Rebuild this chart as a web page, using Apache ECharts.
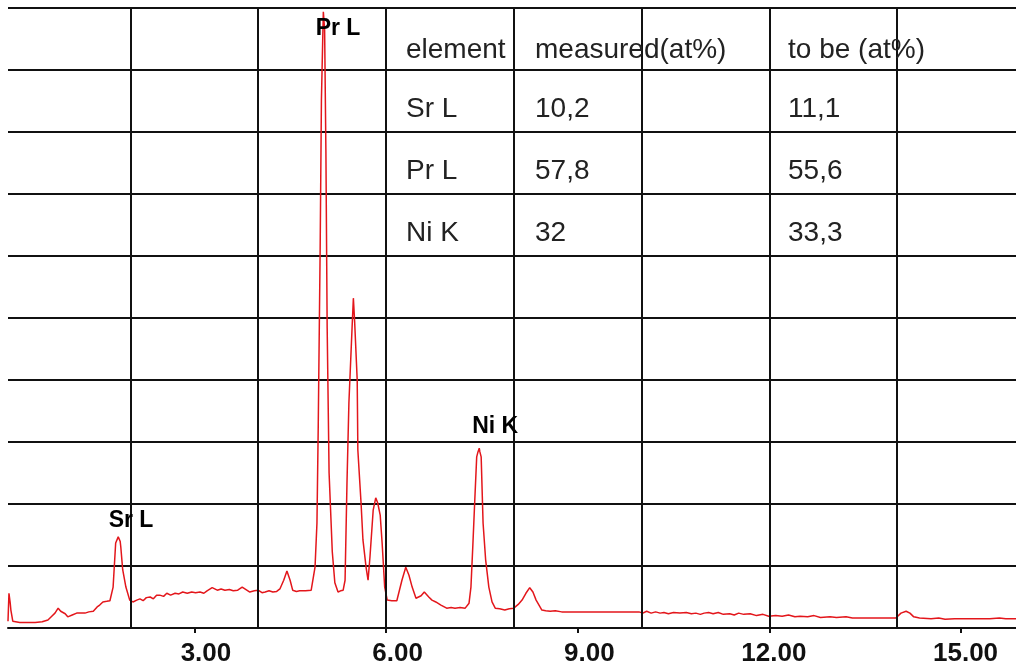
<!DOCTYPE html>
<html><head><meta charset="utf-8">
<script src="https://cdn.jsdelivr.net/npm/echarts@6/dist/echarts.min.js"></script>
<style>html,body{margin:0;padding:0;background:#fff}#c{width:1016px;height:671px}</style>
</head><body><div id="c"></div>
<script>
// Energy (keV) and counts of the EDS spectrum
const energy = [0.085,0.10,0.12,0.13,0.16,0.27,0.40,0.51,0.62,0.71,0.77,0.82,0.87,0.91,0.98,1.02,1.09,1.16,1.29,1.35,1.42,1.48,1.52,1.57,1.63,1.68,1.73,1.77,1.81,1.84,1.85,1.88,1.93,1.99,2.04,2.10,2.15,2.20,2.25,2.31,2.36,2.41,2.46,2.52,2.57,2.63,2.70,2.76,2.82,2.89,2.96,3.02,3.09,3.15,3.20,3.28,3.36,3.42,3.48,3.55,3.61,3.68,3.75,3.81,3.87,3.94,4.00,4.06,4.11,4.17,4.23,4.29,4.34,4.40,4.45,4.50,4.54,4.60,4.65,4.74,4.83,4.89,4.92,4.94,4.97,4.99,5.01,5.02,5.04,5.06,5.08,5.11,5.16,5.20,5.25,5.29,5.33,5.36,5.39,5.42,5.47,5.49,5.51,5.55,5.56,5.61,5.64,5.69,5.72,5.75,5.80,5.84,5.87,5.91,5.94,5.98,6.02,6.09,6.17,6.25,6.31,6.36,6.41,6.47,6.50,6.55,6.60,6.67,6.72,6.78,6.86,6.95,7.02,7.08,7.16,7.24,7.30,7.33,7.36,7.39,7.42,7.44,7.46,7.47,7.49,7.52,7.56,7.61,7.66,7.71,7.78,7.86,7.93,8.00,8.07,8.13,8.19,8.25,8.30,8.35,8.44,8.50,8.57,8.65,8.75,8.90,9.05,9.20,9.35,9.50,9.65,9.80,9.96,10.02,10.08,10.15,10.22,10.29,10.35,10.42,10.50,10.60,10.70,10.78,10.85,10.92,10.98,11.05,11.12,11.20,11.28,11.38,11.45,11.52,11.60,11.70,11.80,11.90,11.99,12.10,12.20,12.30,12.40,12.48,12.60,12.70,12.80,12.95,13.05,13.20,13.30,13.42,13.60,13.80,13.98,14.06,14.14,14.20,14.26,14.35,14.53,14.65,14.75,14.90,14.98,15.10,15.25,15.45,15.60,15.70,15.86];
const counts = [11,56,40,29,11,9,9,9,10,13,19,24,32,27,23,18,21,24,24,26,27,34,37,42,43,44,66,137,147,140,131,94,66,45,42,45,47,44,49,50,47,53,53,51,56,53,56,55,58,56,58,57,58,56,60,65,61,63,61,62,60,61,66,62,58,60,61,57,58,60,58,59,63,77,92,77,61,59,60,60,61,98,169,324,610,852,948,994,965,771,484,250,123,73,58,60,61,77,234,363,485,532,494,400,287,202,142,97,77,115,190,210,202,182,137,66,45,44,44,77,98,85,66,48,45,52,58,50,45,42,37,32,33,32,33,32,40,66,134,206,276,284,290,284,276,169,110,66,42,32,31,29,31,32,38,45,56,65,58,45,29,28,27,28,26,26,26,26,26,26,26,26,26,24,27,24,26,24,25,23,25,24,25,23,24,22,24,25,23,25,22,23,21,24,22,23,20,22,19,20,19,21,18,19,18,20,17,18,17,18,16,16,16,16,16,24,27,24,18,16,15,16,14,15,15,15,15,15,16,15,15];

const xTickValues = [3, 6, 9, 12, 15];
const gridEnergies = [2, 4, 6, 8, 10, 12, 14];

const peakNames = ['Sr L', 'Pr L', 'Ni K'];
const peakLabelEnergy = [2.01, 5.25, 7.71];
const peakLabelCounts = [173, 966, 324];

const tableHeader = ['element', 'measured(at%)', 'to be (at%)'];
const tableElements = ['Sr L', 'Pr L', 'Ni K'];
const tableMeasured = ['10,2', '57,8', '32'];
const tableToBe = ['11,1', '55,6', '33,3'];

const FONT = 'Liberation Sans, Arial, sans-serif';
const chart = echarts.init(document.getElementById('c'), null, {renderer: 'canvas'});

const colX = [406, 535, 788];
const rowY = [50, 109, 171, 233];
const rows = [tableHeader].concat(tableElements.map((e, i) => [e, tableMeasured[i], tableToBe[i]]));
const graphics = [];
rows.forEach((r, ri) => r.forEach((t, ci) => {
  graphics.push({
    type: 'text', x: colX[ci], y: rowY[ri], silent: true, z: 100,
    style: {text: t, font: '28px ' + FONT, fill: '#222', align: 'left', verticalAlign: 'middle',
            textAlign: 'left', textVerticalAlign: 'middle'}
  });
}));

chart.setOption({
  animation: false,
  backgroundColor: '#fff',
  grid: {left: 8, right: 0, top: 8, bottom: 43},
  xAxis: {
    type: 'value', min: 0.085, max: 15.86, offset: 5,
    axisLine: {show: true, lineStyle: {color: '#111', width: 2}},
    axisTick: {show: true, customValues: xTickValues, length: 5, lineStyle: {color: '#111', width: 2}},
    axisLabel: {show: true, customValues: xTickValues, formatter: v => Number(v).toFixed(2),
      fontSize: 26, fontWeight: 'bold', color: '#111', fontFamily: FONT,
      align: 'right', padding: [0, -37, 0, 0], margin: 8},
    splitLine: {show: false}
  },
  yAxis: {
    type: 'value', min: 0, max: 1000, interval: 100,
    axisLine: {show: false}, axisTick: {show: false}, axisLabel: {show: false},
    splitLine: {show: true, lineStyle: {color: '#111', width: 2}}
  },
  series: [{
    type: 'line',
    data: energy.map((e, i) => [e, counts[i]]),
    showSymbol: false,
    lineStyle: {color: '#e3161b', width: 1.5},
    z: 3,
    markLine: {
      silent: true, symbol: ['none', 'none'], label: {show: false},
      lineStyle: {color: '#111', width: 2, type: 'solid'},
      data: gridEnergies.map(e => ({xAxis: e}))
    },
    markPoint: {
      silent: true, symbol: 'circle', symbolSize: 1,
      itemStyle: {color: 'rgba(0,0,0,0)'},
      label: {show: true, position: 'inside', formatter: p => p.name,
        color: '#000', fontWeight: 'bold', fontSize: 23, fontFamily: FONT},
      data: peakNames.map((n, i) => ({name: n, coord: [peakLabelEnergy[i], peakLabelCounts[i]]}))
    }
  }],
  graphic: graphics
});
</script>
</body></html>
